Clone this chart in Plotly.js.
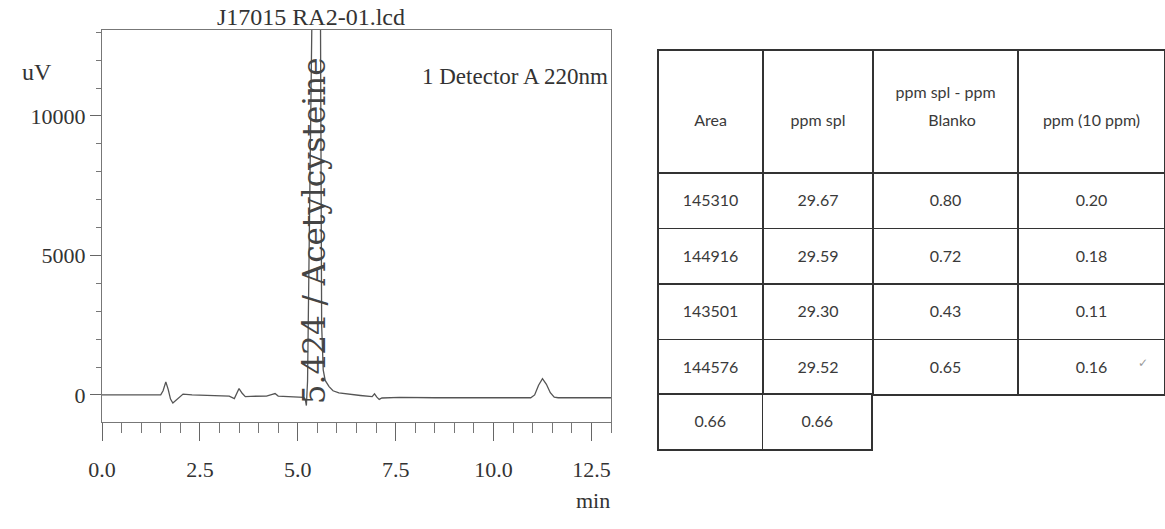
<!DOCTYPE html>
<html>
<head>
<meta charset="utf-8">
<script src="https://cdn.plot.ly/plotly-3.0.1.min.js"></script>
<style>
html,body{margin:0;padding:0;background:#fff;}
#chart{width:1165px;height:529px;}
</style>
</head>
<body>
<div id="chart"></div>
<script>
// ---- chromatogram data (time in min, signal in uV) ----
const times = [0, 0.8, 1.5, 1.56, 1.63, 1.69, 1.75, 1.81, 1.9, 2.0, 2.07, 2.3, 2.8, 3.25, 3.38, 3.44, 3.5, 3.58, 3.66, 3.8, 4.2, 4.35, 4.42, 4.5, 4.9, 5.15, 5.19, 5.22, 5.25, 5.29, 5.33, 5.37, 5.42, 5.47, 5.52, 5.58, 5.61, 5.65, 5.70, 5.80, 5.90, 6.05, 6.3, 6.6, 6.9, 6.96, 7.02, 7.08, 7.15, 7.3, 7.6, 8.5, 9.5, 10.5, 10.95, 11.05, 11.15, 11.25, 11.35, 11.45, 11.55, 11.65, 12.0, 12.5, 13.0];
const signal = [0, 0, 0, 150, 470, 200, -150, -290, -180, -40, 30, 0, -20, -40, -130, 60, 230, 60, -60, -50, -40, 20, 50, -40, -70, -90, -150, -380, 500, 5000, 10000, 14500, 30000, 60000, 30000, 13500, 2500, 900, 520, 300, 150, 70, 20, -20, -60, 40, -80, -160, -110, -100, -90, -100, -100, -100, -100, 0, 350, 580, 380, 80, -80, -100, -100, -100, -100];

const peakLabel = "5.424 / Acetylcysteine";
const peakLabelTime = 5.41;
const fileName = "J17015 RA2-01.lcd";
const detectorName = "1 Detector A 220nm";

// ---- table data ----
const tableHeader = ["Area", "ppm spl", "ppm spl - ppm|Blanko", "ppm (10 ppm)"];
const areaCol = ["145310", "144916", "143501", "144576"];
const ppmSplCol = ["29.67", "29.59", "29.30", "29.52"];
const diffCol = ["0.80", "0.72", "0.43", "0.65"];
const ppm10Col = ["0.20", "0.18", "0.11", "0.16"];
const summaryRow = ["0.66", "0.66"];

const W = 1165, H = 529;
const px = v => v / W;
const py = v => (H - v) / H;

const serif = "Liberation Serif, Times New Roman, serif";
const tableFamily = "Lato, Open Sans, sans-serif";
const tableInk = "#3a3a3a";
const ink = "#333";

// table text: small base font (sets line pitch), real text in 16px spans
const NB = "\u00a0";
const big = s => `<span style="font-size:16px">${s}</span>`;
const spacer = n => (NB + "<br>").repeat(n);
const cellText = s => spacer(1) + big(s);
const headText = s => {
  const parts = s.split("|");
  if (parts.length === 1) return spacer(4) + big(s);
  return spacer(2) + big(parts[0]) + "<br>" + NB + "<br>" + big(NB.repeat(8) + parts[1]);
};
const baseFont = {family: tableFamily, size: 11, color: tableInk};

const traces = [
  {
    type: "scatter", mode: "lines", x: times, y: signal,
    line: {color: "#555", width: 1.3}, hoverinfo: "skip"
  },
  {
    type: "table",
    domain: {x: [px(658), 1.0], y: [py(396), py(50)]},
    columnwidth: [105, 110, 145, 147],
    header: {
      values: tableHeader.map(headText),
      height: 123, align: "center",
      line: {color: "#333", width: 1.2}, fill: {color: "#fff"},
      font: baseFont
    },
    cells: {
      values: [areaCol, ppmSplCol, diffCol, ppm10Col].map(col => col.map(cellText)),
      height: 55.5, align: "center",
      line: {color: "#333", width: 1.2}, fill: {color: "#fff"},
      font: baseFont
    }
  },
  {
    type: "table",
    domain: {x: [px(658), px(873)], y: [py(452), py(394)]},
    columnwidth: [105, 110],
    header: {
      values: summaryRow.map(cellText),
      height: 56, align: "center",
      line: {color: "#333", width: 1.2}, fill: {color: "#fff"},
      font: baseFont
    },
    cells: {values: [[], []], height: 0, line: {color: "rgba(0,0,0,0)", width: 0}}
  }
];

const layout = {
  width: W, height: H,
  margin: {l: 0, r: 0, t: 0, b: 0},
  paper_bgcolor: "#fff", plot_bgcolor: "#fff",
  showlegend: false,
  font: {family: serif, color: ink},
  title: {
    text: fileName, x: px(311), xanchor: "center", y: py(25), yanchor: "bottom",
    font: {family: serif, size: 24, color: ink}
  },
  xaxis: {
    domain: [px(102), px(611)], range: [0, 13], showgrid: false, zeroline: false,
    showline: true, mirror: true, linecolor: "#777", linewidth: 1,
    ticks: "outside", ticklen: 18, tickcolor: "#666", tick0: 0, dtick: 2.5, tickformat: ".1f",
    ticklabelstandoff: 10,
    tickfont: {family: serif, size: 22, color: ink},
    minor: {ticks: "outside", dtick: 0.5, ticklen: 10, tickcolor: "#777"}
  },
  yaxis: {
    domain: [py(422), py(30)], range: [-970, 13080], showgrid: false, zeroline: false,
    showline: true, mirror: true, linecolor: "#777", linewidth: 1,
    ticks: "outside", ticklen: 11, tickcolor: "#666", tick0: 0, dtick: 5000, tickformat: "d",
    tickfont: {family: serif, size: 22, color: ink},
    minor: {ticks: "outside", dtick: 1000, ticklen: 5, tickcolor: "#777"}
  },
  annotations: [
    {xref: "paper", yref: "paper", x: px(20), y: py(57), text: "uV", showarrow: false,
     font: {family: serif, size: 24, color: ink}},
    {xref: "paper", yref: "paper", x: px(610), xanchor: "right", y: py(62), text: detectorName,
     showarrow: false, font: {family: serif, size: 23, color: ink}},
    {xref: "paper", yref: "paper", x: px(612), xanchor: "right", y: py(515), text: "min",
     showarrow: false, font: {family: serif, size: 22, color: ink}},
    {xref: "x", yref: "y", x: peakLabelTime, y: 5900, text: peakLabel, textangle: -90,
     showarrow: false, font: {family: "DejaVu Serif, serif", size: 31, color: "#444"}},
    {xref: "paper", yref: "paper", x: px(1150), y: py(372), text: "✓", showarrow: false,
     font: {family: "DejaVu Sans", size: 12, color: "#999"}}
  ]
};

Plotly.newPlot("chart", traces, layout, {staticPlot: true, displayModeBar: false});
</script>
</body>
</html>
